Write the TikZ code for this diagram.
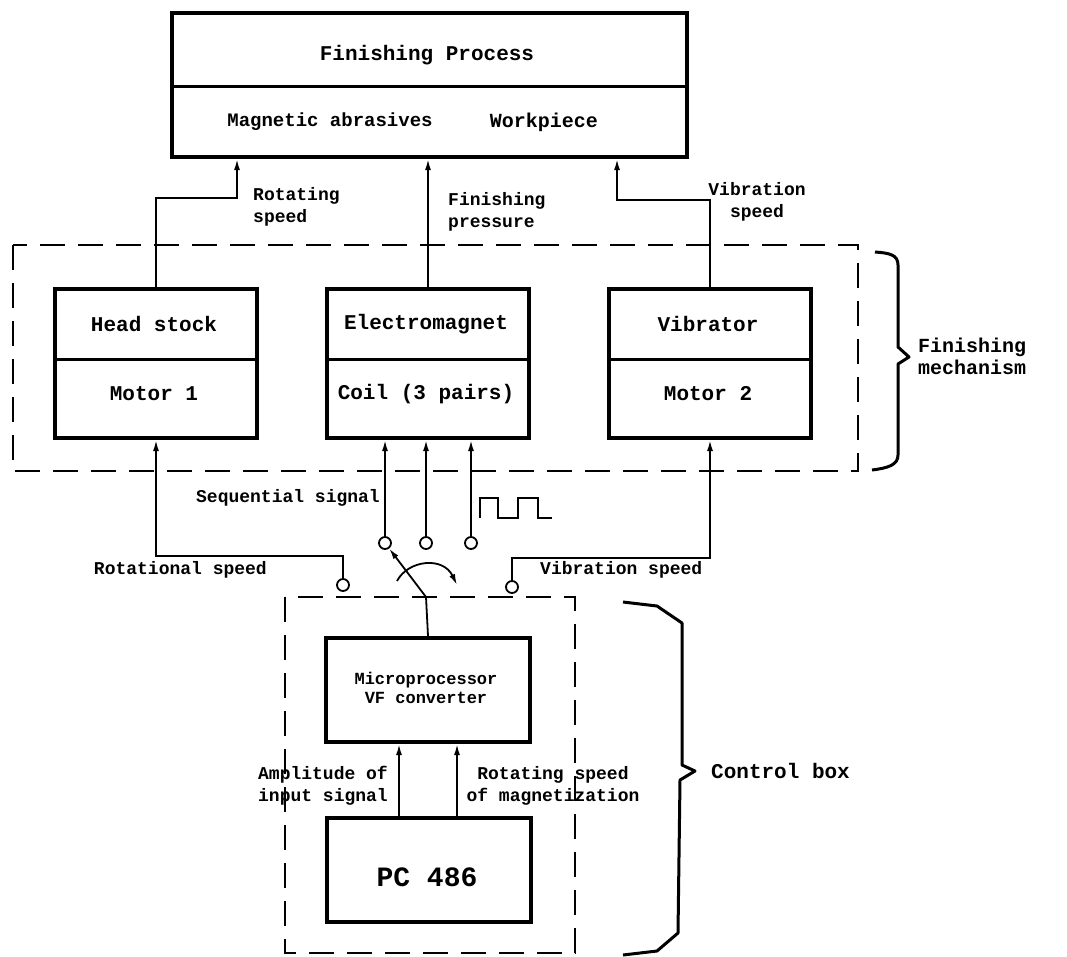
\documentclass[tikz,border=0pt]{standalone}
\usepackage{fontspec}
\setmainfont{Liberation Mono}
\usetikzlibrary{arrows.meta}
\newcommand\fsz[2]{\fontsize{#1}{#2}\selectfont}
\begin{document}
\begin{tikzpicture}[x=1pt,y=-1pt,
  blk/.style={draw,line width=4pt,anchor=north west,inner sep=0pt},
  dbox/.style={draw,line width=2.6pt,dash pattern=on 25pt off 13pt},
  wire/.style={line width=1.8pt},
  arr/.style={wire,-{Latex[length=11pt,width=6pt]}},
  term/.style={draw,circle,line width=1.8pt,minimum size=12pt,inner sep=0pt},
  btxt/.style={font=\bfseries\fsz{21}{26},inner sep=0pt},
  ltxt/.style={font=\bfseries\fsz{18}{22},inner sep=0pt},
  brace/.style={line width=3pt,line join=round}]
\useasboundingbox (0,0) rectangle (1067,956);

% Finishing process
\node[blk,minimum width=515pt,minimum height=144pt] (fp) at (170,11) {};
\draw[line width=3pt] (170,86) -- (685,86);
\node[btxt] (fpt) at (427,55) {Finishing Process};
\node[font=\bfseries\fsz{19}{22}] (ma) at (330,122) {Magnetic abrasives};
\node[font=\bfseries\fsz{20}{22}] (wp) at (544,122) {Workpiece};

% Finishing mechanism
\draw[dbox] (13,245) rectangle (858,471);
\node[blk,minimum width=202pt,minimum height=149pt] (hs) at (53,287) {};
\node[blk,minimum width=202pt,minimum height=149pt] (em) at (325,287) {};
\node[blk,minimum width=202pt,minimum height=149pt] (vb) at (607,287) {};
\draw[line width=3pt] (53,359) -- (255,359);
\draw[line width=3pt] (325,359) -- (527,359);
\draw[line width=3pt] (607,359) -- (809,359);
\node[btxt] (hst) at (154,324) {Head stock};
\node[btxt] (m1t) at (154,394) {Motor 1};
\node[btxt] (emt) at (426,324) {Electromagnet};
\node[btxt] (cot) at (426,394) {Coil (3 pairs)};
\node[btxt] (vbt) at (708,324) {Vibrator};
\node[btxt] (m2t) at (708,394) {Motor 2};

% top connectors
\coordinate (r1) at (237,198);
\coordinate (v1) at (617,200);
\draw[arr] (hs.north) |- (r1) -- (r1 |- fp.south);
\draw[arr] (em.north) -- (em.north |- fp.south);
\draw[arr] (vb.north) |- (v1) -- (v1 |- fp.south);
\node[ltxt,align=left,anchor=west] (rsl) at (253,207) {Rotating\\speed};
\node[ltxt,align=left,anchor=west] (fpl) at (448,212) {Finishing\\pressure};
\node[ltxt,align=center] (vsl) at (757,202) {Vibration\\speed};

% brace finishing mechanism
\draw[brace] (875,252) .. controls (890,253) and (898,255) .. (898,265) -- (898,347) -- (909,357) -- (898,364) -- (898,455) .. controls (898,465) and (888,468) .. (872,470);
\node[font=\bfseries\fsz{20}{22},align=left,anchor=west,inner sep=0pt] (fml) at (918,356) {Finishing\\mechanism};

% terminals
\node[term] (c1) at (385,543) {};
\node[term] (c2) at (426,543) {};
\node[term] (c3) at (471,543) {};
\node[term] (cr) at (343,585) {};
\node[term] (cv) at (512,587) {};
\draw[arr] (c1) -- (c1 |- em.south);
\draw[arr] (c2) -- (c2 |- em.south);
\draw[arr] (c3) -- (c3 |- em.south);
\coordinate (rb) at (343,556);
\coordinate (vbd) at (512,558);
\draw[arr] (cr) -- (rb) -| (hs.south);
\draw[arr] (cv) -- (vbd) -| (vb.south);
\node[ltxt,anchor=east] (ssl) at (380,498) {Sequential signal};
\node[ltxt,anchor=east] (rtl) at (267,570) {Rotational speed};
\node[ltxt,anchor=west] (vtl) at (540,570) {Vibration speed};
\draw[wire] (480,518) -- (480,498) -- (498,498) -- (498,518) -- (518,518) -- (518,498) -- (538,498) -- (538,518) -- (552,518);

% control box
\draw[dbox] (285,597) rectangle (575,953);
\node[blk,minimum width=204pt,minimum height=104pt] (mp) at (324,636) {};
\node[blk,minimum width=204pt,minimum height=104pt] (pc) at (325,816) {};
\node[font=\bfseries\fsz{17}{19},align=center] (mpt) at (426,688) {Microprocessor\\VF converter};
\node[font=\bfseries\fsz{28}{30}] (pct) at (427,877) {PC 486};
\coordinate (a1) at (399,0);
\coordinate (a2) at (457,0);
\draw[arr] (pc.north -| a1) -- (mp.south -| a1);
\draw[arr] (pc.north -| a2) -- (mp.south -| a2);
\node[ltxt,align=right,anchor=east] (aml) at (388,786) {Amplitude of\\input signal};
\node[ltxt,align=center] (rml) at (553,786) {Rotating speed\\of magnetization};

% switch
\coordinate (pv) at (426,597);
\draw[wire] (mp.north) -- (pv);
\draw[arr] (pv) -- (c1);
\draw[arr] (397,581) .. controls (408,560) and (443,556) .. (457,585);

% brace control box
\draw[brace] (623,602) -- (657,606) -- (682,623) -- (682,765) -- (695,771) -- (680,780) -- (678,933) -- (657,951) -- (623,955);
\node[btxt,anchor=west] (cbl) at (711,771) {Control box};
\end{tikzpicture}
\end{document}
